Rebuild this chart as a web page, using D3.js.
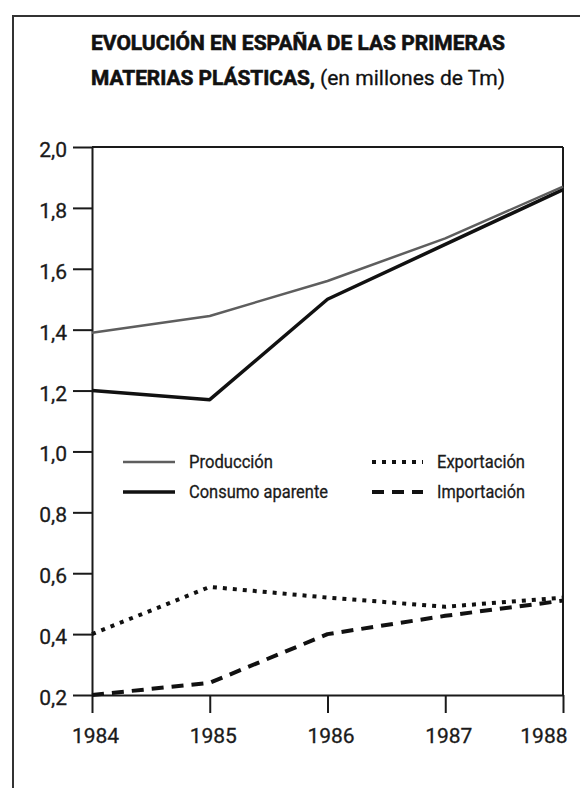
<!DOCTYPE html>
<html>
<head>
<meta charset="utf-8">
<script src="https://cdn.jsdelivr.net/npm/d3@7"></script>
<style>
  html, body { margin: 0; padding: 0; background: #fff; }
  svg { display: block; }
  .narrow { font-family: Roboto, "Liberation Sans", sans-serif; }
  .axis text { font-family: Roboto, "Liberation Sans", sans-serif; font-size: 21px; fill: #1a1a1a; stroke: #1a1a1a; stroke-width: 0.3px; }
</style>
</head>
<body>
<svg id="chart" width="580" height="788"></svg>
<script>
// ---- data ----
const years = ["1984", "1985", "1986", "1987", "1988"];
const produccion = [1.39, 1.445, 1.56, 1.70, 1.87];
const consumo = [1.20, 1.17, 1.50, 1.68, 1.86];
const exportacion = [0.40, 0.555, 0.52, 0.49, 0.52];
const importacion = [0.20, 0.24, 0.40, 0.46, 0.51];
const yTicks = [0.2, 0.4, 0.6, 0.8, 1.0, 1.2, 1.4, 1.6, 1.8, 2.0];
const titleLine1 = "EVOLUCIÓN EN ESPAÑA DE LAS PRIMERAS";
const titleLine2Bold = "MATERIAS PLÁSTICAS,";
const titleLine2Reg = "(en millones de Tm)";

const seriesDefs = [
  { name: "Producción", values: produccion, color: "#5e5e5e", width: 2.5, dash: null },
  { name: "Consumo aparente", values: consumo, color: "#111", width: 3.5, dash: null },
  { name: "Exportación", values: exportacion, color: "#111", width: 4, dash: "4,6" },
  { name: "Importación", values: importacion, color: "#111", width: 4, dash: "12,8" }
];

const svg = d3.select("#chart");

// outer frame
svg.append("rect")
  .attr("x", 13).attr("y", 16).attr("width", 620).attr("height", 820)
  .attr("fill", "none").attr("stroke", "#333").attr("stroke-width", 2);

// title
svg.append("text").attr("class", "narrow")
  .attr("x", 91).attr("y", 50)
  .attr("font-size", 21).attr("font-weight", "bold").attr("fill", "#111")
  .attr("stroke", "#111").attr("stroke-width", 0.6)
  .attr("textLength", 414).attr("lengthAdjust", "spacingAndGlyphs")
  .text(titleLine1);
svg.append("text").attr("class", "narrow")
  .attr("x", 91).attr("y", 85)
  .attr("font-size", 21).attr("font-weight", "bold").attr("fill", "#111")
  .attr("stroke", "#111").attr("stroke-width", 0.6)
  .attr("textLength", 224).attr("lengthAdjust", "spacingAndGlyphs")
  .text(titleLine2Bold);
svg.append("text").attr("class", "narrow")
  .attr("x", 320).attr("y", 85)
  .attr("font-size", 21).attr("fill", "#111")
  .attr("stroke", "#111").attr("stroke-width", 0.3)
  .attr("textLength", 185).attr("lengthAdjust", "spacingAndGlyphs")
  .text(titleLine2Reg);

// scales
const x = d3.scalePoint().domain(years).range([92, 563]);
const y = d3.scaleLinear().domain([0.2, 2.0]).range([695, 147]);

// plot box (top and right)
const axisColor = "#1a1a1a";
svg.append("line").attr("x1", x.range()[0]).attr("x2", x.range()[1])
  .attr("y1", y(2.0)).attr("y2", y(2.0)).attr("stroke", axisColor).attr("stroke-width", 2);
svg.append("line").attr("x1", x.range()[1]).attr("x2", x.range()[1])
  .attr("y1", y(2.0)).attr("y2", y(0.2)).attr("stroke", axisColor).attr("stroke-width", 2);

// axes
const fmt = d => d3.format(".1f")(d).replace(".", ",");
const yAxis = svg.append("g").attr("class", "axis")
  .attr("transform", `translate(${x.range()[0]},0)`)
  .call(d3.axisLeft(y).tickValues(yTicks).tickFormat(fmt).tickSize(19).tickSizeOuter(0).tickPadding(6));
const xAxis = svg.append("g").attr("class", "axis")
  .attr("transform", `translate(0,${y(0.2)})`)
  .call(d3.axisBottom(x).tickSize(18).tickSizeOuter(0).tickPadding(10));

[yAxis, xAxis].forEach(g => {
  g.select(".domain").attr("stroke", axisColor).attr("stroke-width", 2);
  g.selectAll(".tick line").attr("stroke", axisColor).attr("stroke-width", 2);
});
yAxis.selectAll(".tick text").attr("dy", "0.45em");
xAxis.selectAll(".tick text").attr("dx", "3px").attr("dy", "0.95em");
// last year label sits inside the frame, to the left of its tick
xAxis.selectAll(".tick text").filter(d => d === years[years.length - 1])
  .attr("text-anchor", "end").attr("dx", "4px");

// lines
const line = d3.line().x((d, i) => x(years[i])).y(d => y(d));
seriesDefs.slice().reverse().forEach(s => {
  svg.append("path")
    .datum(s.values)
    .attr("d", line)
    .attr("fill", "none")
    .attr("stroke", s.color)
    .attr("stroke-width", s.width)
    .attr("stroke-linejoin", "round")
    .attr("stroke-dasharray", s.dash);
});

// legend
const legendPos = [
  { x1: 123, x2: 175, tx: 189, y: 462 },
  { x1: 123, x2: 175, tx: 189, y: 492 },
  { x1: 372, x2: 423, tx: 437, y: 462 },
  { x1: 372, x2: 423, tx: 437, y: 492 }
];
const legendWidths = [84, 139, 88, 88];
seriesDefs.forEach((s, i) => {
  const p = legendPos[i];
  svg.append("line")
    .attr("x1", p.x1).attr("x2", p.x2).attr("y1", p.y).attr("y2", p.y)
    .attr("stroke", s.color).attr("stroke-width", s.width)
    .attr("stroke-dasharray", s.dash);
  svg.append("text").attr("class", "narrow")
    .attr("x", p.tx).attr("y", p.y + 5.5)
    .attr("font-size", 18).attr("fill", "#1a1a1a")
    .attr("stroke", "#1a1a1a").attr("stroke-width", 0.3)
    .attr("textLength", legendWidths[i]).attr("lengthAdjust", "spacingAndGlyphs")
    .text(s.name);
});
</script>
</body>
</html>
